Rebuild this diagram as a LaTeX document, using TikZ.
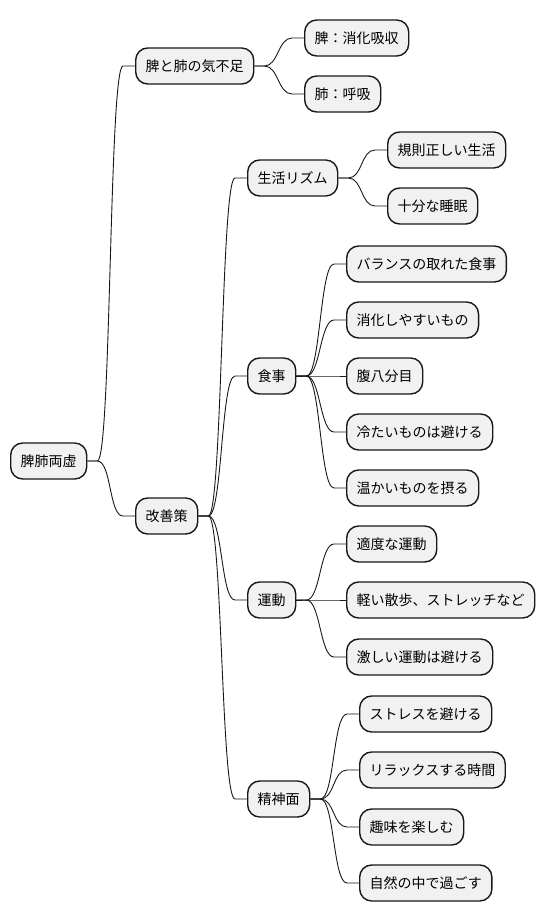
\documentclass[tikz,border=0pt]{standalone}
\usepackage{fontspec}
\setmainfont{Noto Sans CJK JP}
\usetikzlibrary{calc}
\definecolor{boxfill}{HTML}{F1F1F1}
\definecolor{boxline}{HTML}{181818}
\tikzset{
  mmbox/.style={draw=boxline, fill=boxfill, line width=1.4pt, rounded corners=12pt,
    inner xsep=10pt, inner ysep=0pt, minimum height=36pt, anchor=west,
    font=\fontsize{14}{16}\selectfont, text=black},
  link/.style={draw=boxline, line width=0.9pt}
}
\newcommand\mmlink[2]{\draw[link] (#1.east) -- ++(10,0) .. controls +(14,0) and +(-14,0) .. ($(#2.west)+(-12,0)$) -- (#2.west);}
\begin{document}
\begin{tikzpicture}[x=1pt,y=1pt]
\useasboundingbox (0,0) rectangle (544,-921);
\node[mmbox] (root) at (10,-461) {脾肺両虚};
\node[mmbox] (n1) at (135,-66) {脾と肺の気不足};
\node[mmbox] (n11) at (304,-38) {脾：消化吸収};
\node[mmbox] (n12) at (304,-94) {肺：呼吸};
\node[mmbox] (n2) at (135,-516) {改善策};
\node[mmbox] (n21) at (247,-178) {生活リズム};
\node[mmbox] (n211) at (387,-150) {規則正しい生活};
\node[mmbox] (n212) at (387,-206) {十分な睡眠};
\node[mmbox] (n22) at (247,-376) {食事};
\node[mmbox] (n221) at (346,-264) {バランスの取れた食事};
\node[mmbox] (n222) at (346,-320) {消化しやすいもの};
\node[mmbox] (n223) at (346,-376) {腹八分目};
\node[mmbox] (n224) at (346,-432) {冷たいものは避ける};
\node[mmbox] (n225) at (346,-488) {温かいものを摂る};
\node[mmbox] (n23) at (247,-600) {運動};
\node[mmbox] (n231) at (346,-544) {適度な運動};
\node[mmbox] (n232) at (346,-600) {軽い散歩、ストレッチなど};
\node[mmbox] (n233) at (346,-657) {激しい運動は避ける};
\node[mmbox] (n24) at (247,-799) {精神面};
\node[mmbox] (n241) at (359,-714) {ストレスを避ける};
\node[mmbox] (n242) at (359,-770) {リラックスする時間};
\node[mmbox] (n243) at (359,-827) {趣味を楽しむ};
\node[mmbox] (n244) at (359,-883) {自然の中で過ごす};
\mmlink{root}{n1}
\mmlink{root}{n2}
\mmlink{n1}{n11}
\mmlink{n1}{n12}
\mmlink{n2}{n21}
\mmlink{n2}{n22}
\mmlink{n2}{n23}
\mmlink{n2}{n24}
\mmlink{n21}{n211}
\mmlink{n21}{n212}
\mmlink{n22}{n221}
\mmlink{n22}{n222}
\mmlink{n22}{n223}
\mmlink{n22}{n224}
\mmlink{n22}{n225}
\mmlink{n23}{n231}
\mmlink{n23}{n232}
\mmlink{n23}{n233}
\mmlink{n24}{n241}
\mmlink{n24}{n242}
\mmlink{n24}{n243}
\mmlink{n24}{n244}
\end{tikzpicture}
\end{document}
